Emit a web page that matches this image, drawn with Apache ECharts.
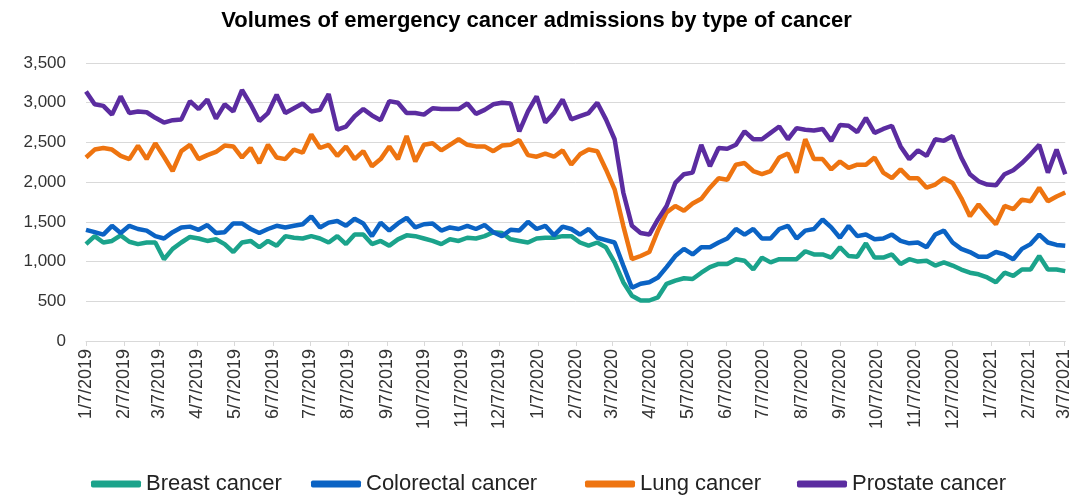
<!DOCTYPE html>
<html>
<head>
<meta charset="utf-8">
<script src="https://cdn.jsdelivr.net/npm/echarts@6/dist/echarts.min.js"></script>
<style>
  html, body { margin: 0; padding: 0; background: #fff; }
  #main { width: 1073px; height: 502px; }
</style>
</head>
<body>
<div id="main"></div>
<script>
// weekly series, first week 7 Jan 2019
var startDate = [2019, 0, 7];
var breast = [
  1220,1320,1240,1260,1330,1250,1220,1240,1240,1030,1160,1240,1310,1290,1260,1280,1220,1120,1240,
  1260,1180,1260,1200,1320,1300,1290,1320,1290,1240,1320,1220,1340,1340,1220,1260,1200,1280,1330,
  1320,1290,1260,1220,1280,1260,1300,1290,1320,1370,1360,1280,1260,1240,1290,1300,1300,1320,1320,
  1240,1200,1240,1180,990,740,570,510,510,550,720,760,790,780,860,930,970,970,1030,
  1010,900,1050,990,1030,1030,1030,1130,1090,1090,1050,1180,1070,1060,1230,1050,1050,1090,970,
  1030,1000,1010,950,990,950,900,860,840,800,740,860,820,900,900,1070,900,900,880
];
var colorectal = [
  1400,1370,1340,1450,1360,1450,1410,1390,1320,1290,1370,1430,1440,1400,1460,1360,1370,1480,1480,
  1410,1360,1410,1450,1430,1450,1470,1570,1430,1490,1510,1450,1540,1480,1320,1490,1390,1480,1550,
  1430,1470,1480,1390,1430,1410,1450,1410,1460,1370,1320,1400,1390,1500,1410,1450,1330,1440,1410,
  1340,1410,1300,1270,1240,950,670,720,740,800,930,1070,1160,1090,1180,1180,1240,1290,1410,
  1340,1410,1290,1290,1410,1450,1290,1390,1410,1530,1430,1300,1450,1320,1340,1280,1290,1340,1260,
  1230,1240,1180,1340,1390,1240,1160,1120,1060,1060,1120,1090,1030,1160,1220,1340,1240,1210,1200
];
var lung = [
  2310,2410,2430,2410,2330,2290,2460,2290,2490,2320,2140,2390,2470,2290,2340,2380,2460,2450,2310,
  2430,2240,2470,2310,2290,2410,2370,2600,2430,2470,2330,2450,2290,2390,2200,2290,2450,2290,2580,
  2260,2470,2490,2400,2470,2540,2470,2450,2450,2390,2460,2470,2530,2340,2320,2360,2320,2400,2220,
  2350,2410,2390,2160,1910,1450,1030,1070,1120,1390,1620,1700,1640,1730,1790,1930,2050,2030,2220,
  2240,2140,2100,2140,2310,2360,2120,2540,2290,2290,2160,2260,2180,2220,2220,2310,2120,2050,2160,
  2050,2050,1930,1970,2050,1990,1800,1570,1720,1590,1470,1700,1660,1780,1760,1930,1760,1820,1870
];
var prostate = [
  3140,2980,2960,2850,3080,2870,2890,2880,2810,2750,2780,2790,3020,2920,3040,2800,2980,2890,3160,
  2980,2770,2870,3100,2870,2930,2990,2890,2910,3110,2660,2700,2830,2920,2840,2780,3020,3000,2870,
  2870,2850,2930,2920,2920,2920,2990,2860,2910,2980,3000,2990,2640,2890,3080,2750,2870,3040,2790,
  2830,2870,3000,2790,2540,1870,1450,1360,1340,1530,1700,1990,2100,2120,2470,2200,2430,2420,2470,
  2640,2540,2540,2620,2700,2540,2680,2660,2650,2670,2520,2720,2710,2630,2810,2620,2670,2710,2450,
  2290,2400,2330,2540,2520,2580,2310,2100,2010,1970,1960,2100,2150,2240,2350,2470,2120,2410,2100
];
var seriesNames = ['Breast cancer', 'Colorectal cancer', 'Lung cancer', 'Prostate cancer'];
var seriesColors = ['#1ba38b', '#0b63c4', '#ee7410', '#5b2ca0'];

var DAY = 86400000;
var t0 = Date.UTC(startDate[0], startDate[1], startDate[2]);

function fmtDate(t) {
  var d = new Date(t);
  return (d.getUTCMonth() + 1) + '/' + d.getUTCDate() + '/' + d.getUTCFullYear();
}

// one category per day, so month labels sit at their true dates
var days = [];
var dayOfMonth = [];
for (var i = 0; i <= 791; i++) {
  days.push(fmtDate(t0 + i * DAY));
  dayOfMonth.push(new Date(t0 + i * DAY).getUTCDate());
}

function toPairs(vals) {
  return vals.map(function (v, i) { return [days[i * 7], v]; });
}

function isMonthTick(idx) {
  return dayOfMonth[idx] === 7;
}

var allSeries = [breast, colorectal, lung, prostate].map(function (vals, k) {
  return {
    name: seriesNames[k],
    type: 'line',
    data: toPairs(vals),
    symbol: 'none',
    lineStyle: { width: 4.5, color: seriesColors[k] },
    itemStyle: { color: seriesColors[k] }
  };
});

// one legend per item so the uneven spacing of the original can be kept
var legendLefts = [86, 306, 580, 792];
var legends = seriesNames.map(function (nm, k) {
  return {
    left: legendLefts[k],
    bottom: 2,
    icon: 'roundRect',
    itemWidth: 50,
    itemHeight: 7,
    textStyle: { fontSize: 22, color: '#222' },
    data: [nm]
  };
});

var chart = echarts.init(document.getElementById('main'));
chart.setOption({
  animation: false,
  textStyle: { fontFamily: 'Liberation Sans, Arial, sans-serif' },
  title: {
    text: 'Volumes of emergency cancer admissions by type of cancer',
    left: 'center',
    top: 5,
    textStyle: { fontSize: 22, fontWeight: 'bold', color: '#000' }
  },
  legend: legends,
  grid: { left: 86, right: 7, top: 63, bottom: 161, containLabel: false },
  xAxis: {
    type: 'category',
    data: days,
    boundaryGap: false,
    axisLine: { lineStyle: { color: '#d9d9d9', width: 1 } },
    axisTick: { show: true, interval: isMonthTick, length: 5, lineStyle: { color: '#d9d9d9' } },
    splitLine: { show: false },
    axisLabel: {
      interval: isMonthTick,
      rotate: 90,
      fontSize: 18,
      color: '#333',
      margin: 8
    }
  },
  yAxis: {
    type: 'value',
    min: 0,
    max: 3500,
    interval: 500,
    axisLine: { show: false },
    axisTick: { show: false },
    splitLine: { lineStyle: { color: '#d9d9d9', width: 1 } },
    axisLabel: {
      fontSize: 17,
      color: '#333',
      margin: 20,
      formatter: function (v) { return v.toLocaleString('en-US'); }
    }
  },
  series: allSeries
});
</script>
</body>
</html>
